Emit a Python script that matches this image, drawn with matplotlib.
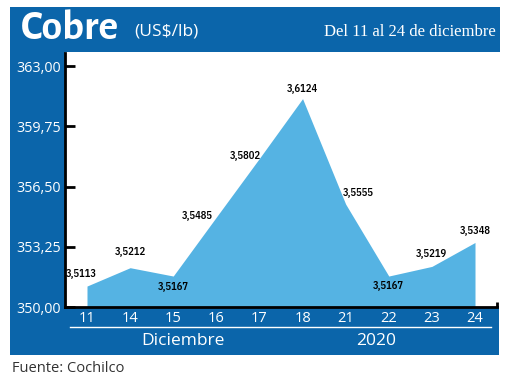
import matplotlib
matplotlib.use("Agg")
import matplotlib.pyplot as plt
from matplotlib.patches import Rectangle
from matplotlib.lines import Line2D

days = ["11", "14", "15", "16", "17", "18", "21", "22", "23", "24"]
values = [351.13, 352.12, 351.67, 354.85, 358.02, 361.24, 355.55, 351.67, 352.19, 353.48]
labels = ["3,5113", "3,5212", "3,5167", "3,5485", "3,5802", "3,6124", "3,5555", "3,5167", "3,5219", "3,5348"]
yticks = [350.00, 353.25, 356.50, 359.75, 363.00]
ytick_labels = ["350,00", "353,25", "356,50", "359,75", "363,00"]

W, H = 520, 381
DARK = "#0b65aa"
FILL = "#55b3e3"

fig = plt.figure(figsize=(W / 100, H / 100), dpi=100)
fig.patch.set_facecolor("white")

def px_rect(x0, y0, x1, y1, color, z=-5):
    r = Rectangle((x0 / W, 1 - y1 / H), (x1 - x0) / W, (y1 - y0) / H,
                  transform=fig.transFigure, facecolor=color, edgecolor="none", zorder=z)
    fig.patches.append(r)

# header and bands
px_rect(10, 7, 500, 52, DARK)
px_rect(10, 52, 65, 355, DARK)
px_rect(10, 306, 499, 355, DARK)

# axes
ax_l, ax_r, ax_t, ax_b = 65, 497, 53, 307
ax = fig.add_axes([ax_l / W, 1 - ax_b / H, (ax_r - ax_l) / W, (ax_b - ax_t) / H])
ax.set_zorder(1)
ax.set_facecolor("white")
ppu = (307 - 66) / 13.0
ax.set_ylim(350, 350 + (ax_b - ax_t) / ppu)
sp = (475 - 87) / 9.0
ax.set_xlim(-(87 - ax_l) / sp, 9 + (ax_r - 475) / sp)

x = list(range(len(days)))
ax.fill_between(x, values, 350, color=FILL, linewidth=0, zorder=1)

for s in ["top", "right"]:
    ax.spines[s].set_visible(False)
ax.spines["left"].set_color("black")
ax.spines["left"].set_linewidth(2)
ax.spines["bottom"].set_color("black")
ax.spines["bottom"].set_linewidth(2)
ax.spines["left"].set_zorder(3)

ax.set_yticks(yticks)
ax.set_yticklabels(ytick_labels)
ax.tick_params(axis="y", direction="in", length=7, width=2, color="black",
               labelcolor="white", labelsize=10.3, pad=3)
ax.set_xticks(x)
ax.set_xticklabels(days)
ax.tick_params(axis="x", length=0, labelcolor="white", labelsize=10.5, pad=3)
for t in ax.get_yticklabels() + ax.get_xticklabels():
    t.set_family("Open Sans")

# right end small tick
ax.plot([1, 1], [350, 350 + 5 / ppu], transform=ax.get_yaxis_transform(),
        color="black", lw=2, clip_on=False, solid_capstyle="butt")

# data labels (offsets in points)
offsets = [(-4, 9), (0, 11), (0, -8), (-14, 1), (-10, 2), (0, 7), (9, 8), (0, -7), (0, 9), (0, 8)]
for i, (v, lab) in enumerate(zip(values, labels)):
    dx, dy = offsets[i]
    ax.annotate(lab, (i, v), xytext=(dx, dy), textcoords="offset points",
                ha="center", va="center", fontsize=7.6, color="black",
                family="IBM Plex Sans Condensed", fontweight="semibold", zorder=5)

# bottom band separator and labels
fig.lines.append(Line2D([70 / W, 491 / W], [1 - 327 / H, 1 - 327 / H],
                        transform=fig.transFigure, color="white", lw=1))
fig.text(183 / W, 1 - 341 / H, "Diciembre", color="white", fontsize=12.5,
         ha="center", va="center", family="Open Sans")
fig.text(376 / W, 1 - 341 / H, "2020", color="white", fontsize=12.5,
         ha="center", va="center", family="Open Sans")

# header texts
fig.text(21 / W, 1 - 28 / H, "Cobre", color="white", fontsize=30, fontweight="bold",
         ha="left", va="center", family=["Alegreya Sans", "DejaVu Sans"])
fig.text(134 / W, 1 - 32 / H, "(US$/lb)", color="white", fontsize=12.5,
         ha="left", va="center", family="Open Sans")
fig.text(496 / W, 1 - 32 / H, "Del 11 al 24 de diciembre", color="white", fontsize=12,
         ha="right", va="center", family="Liberation Serif")

fig.text(12 / W, 1 - 369 / H, "Fuente: Cochilco", color="#333333", fontsize=10.5,
         ha="left", va="center", family="Open Sans")

fig.savefig("out.png", dpi=100, facecolor="white")
